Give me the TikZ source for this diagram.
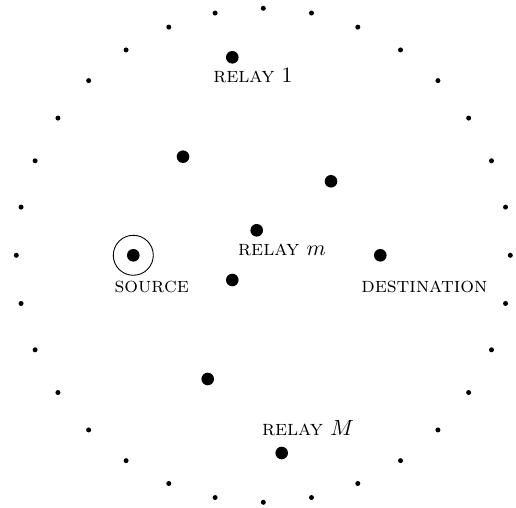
\documentclass[tikz,border=0pt]{standalone}
\begin{document}
\begin{tikzpicture}[x=0.5pt,y=-0.5pt,
  smalldot/.style={circle,fill=black,inner sep=0pt,minimum size=2.5pt},
  bigdot/.style={circle,fill=black,inner sep=0pt,minimum size=6.3pt},
  lbl/.style={anchor=base,inner sep=0pt,font=\fontsize{10.8}{13}\selectfont}]
\useasboundingbox (0,0) rectangle (516,508);
% boundary dots
\foreach \i in {0,...,31}{
  \node[smalldot] (b\i) at ({263.3+247*cos(\i*11.25)},{255.3-247*sin(\i*11.25)}) {};
}
% nodes
\node[bigdot] (r1) at (232.3,57.3) {};
\node[bigdot] (r2) at (183,156.7) {};
\node[bigdot] (r3) at (331,181.3) {};
\node[bigdot] (rm) at (256.7,230.3) {};
\node[bigdot] (src) at (133.3,255.3) {};
\node[draw,circle,inner sep=0pt,minimum size=20pt,line width=0.45pt] (srcring) at (src) {};
\node[bigdot] (r4) at (232.3,280) {};
\node[bigdot] (dst) at (380.3,255.3) {};
\node[bigdot] (r5) at (207.7,379) {};
\node[bigdot] (rM) at (281.7,453) {};
% labels
\node[lbl] (l1) at (253,82.7) {\textsc{relay} $1$};
\node[lbl] (lm) at (282,256) {\textsc{relay} $m$};
\node[lbl] (ls) at (151.7,292.7) {\textsc{source}};
\node[lbl] (ld) at (424.3,292.7) {\textsc{destination}};
\node[lbl] (lM) at (308,436) {\textsc{relay} $M$};
\end{tikzpicture}
\end{document}
